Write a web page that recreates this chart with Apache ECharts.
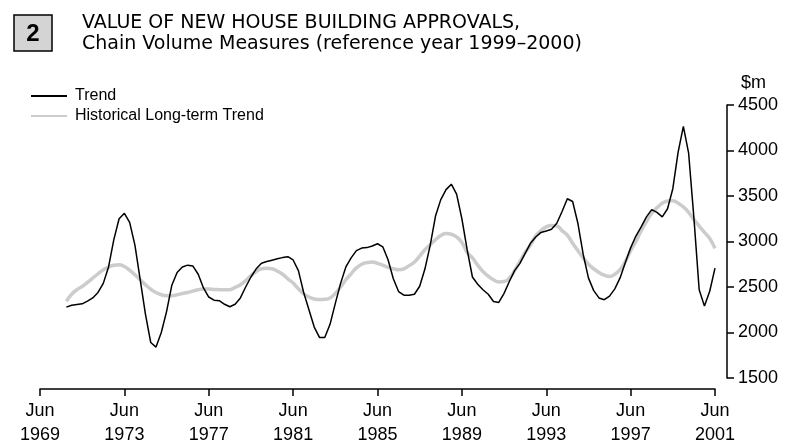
<!DOCTYPE html>
<html>
<head>
<meta charset="utf-8">
<script src="https://cdn.jsdelivr.net/npm/echarts@6/dist/echarts.min.js"></script>
<style>
  html, body { margin: 0; padding: 0; background: #fff; }
  #chart { width: 794px; height: 447px; }
</style>
</head>
<body>
<div id="chart"></div>
<script>
// quarters counted from Jun 1969 (0) ; first observation is Sep 1970
const firstQuarter = 5;
const tickYears = ['1969', '1973', '1977', '1981', '1985', '1989', '1993', '1997', '2001'];

// Trend, $m
const trendValues = [
  2279, 2300, 2308, 2315, 2345, 2380, 2440, 2540, 2720, 3020,
  3250, 3310, 3210, 2960, 2580, 2200, 1890, 1840, 2000, 2230,
  2520, 2660, 2720, 2740, 2730, 2640, 2490, 2390, 2355, 2350,
  2310, 2283, 2310, 2380, 2500, 2610, 2700, 2761, 2780, 2795,
  2810, 2823, 2833, 2797, 2680, 2440, 2250, 2060, 1946, 1946,
  2090, 2320, 2540, 2720, 2820, 2900, 2928, 2933, 2950, 2975,
  2942, 2800, 2590, 2450, 2410, 2410, 2420, 2508, 2700, 2960,
  3280, 3460, 3570, 3630, 3520, 3250, 2910, 2610, 2530, 2470,
  2420, 2340, 2330, 2430, 2560, 2680, 2760, 2870, 2980, 3050,
  3100, 3115, 3135, 3200, 3330, 3470, 3440, 3200, 2860, 2600,
  2460, 2380, 2360, 2400, 2480, 2600, 2770, 2930, 3060, 3160,
  3270, 3350, 3320, 3270, 3360, 3580, 3980, 4265, 3970, 3260,
  2470, 2290, 2453, 2707
];

// Historical long-term trend, $m
const longTermValues = [
  2344, 2420, 2470, 2505, 2550, 2598, 2645, 2688, 2720, 2740,
  2745, 2725, 2685, 2634, 2580, 2525, 2475, 2440, 2415, 2405,
  2405, 2415, 2428, 2440, 2455, 2470, 2478, 2478, 2473, 2471,
  2470, 2471, 2495, 2525, 2570, 2625, 2670, 2700, 2707, 2700,
  2675, 2640, 2590, 2543, 2480, 2425, 2390, 2368, 2362, 2365,
  2380, 2430, 2500, 2580, 2645, 2710, 2750, 2768, 2775, 2760,
  2740, 2715, 2700, 2690, 2700, 2735, 2775, 2840, 2910, 2965,
  3020, 3065, 3087, 3080, 3051, 2990, 2880, 2820, 2740, 2670,
  2620, 2580, 2555, 2560, 2598, 2680, 2780, 2880, 2960, 3060,
  3120, 3160, 3177, 3170, 3120, 3069, 2980, 2900, 2820, 2750,
  2700, 2660, 2630, 2616, 2640, 2690, 2780, 2900, 3000, 3120,
  3220, 3310, 3370, 3420, 3445, 3449, 3420, 3380, 3320, 3240,
  3170, 3100, 3033, 2924
];

const toPairs = arr => arr.map((v, i) => [firstQuarter + i, v]);

const chart = echarts.init(document.getElementById('chart'));
const sans = '"Liberation Sans", Arial, sans-serif';
const titleFont = '"DejaVu Sans", sans-serif';

const option = {
  animation: false,
  backgroundColor: '#fff',
  textStyle: { fontFamily: sans, color: '#000' },
  graphic: [
    {
      type: 'rect',
      shape: { x: 14, y: 15, width: 38, height: 36 },
      style: { fill: '#d4d4d4', stroke: '#000', lineWidth: 1.5 }
    },
    {
      type: 'text',
      x: 33, y: 34,
      style: { text: '2', fontSize: 24, fontWeight: 'bold', fontFamily: sans, fill: '#000', align: 'center', verticalAlign: 'middle' }
    },
    {
      type: 'text',
      x: 82, y: 23,
      style: { text: 'VALUE OF NEW HOUSE BUILDING APPROVALS,', fontSize: 19, fontFamily: titleFont, fill: '#000', verticalAlign: 'middle' }
    },
    {
      type: 'text',
      x: 82, y: 44,
      style: { text: 'Chain Volume Measures (reference year 1999–2000)', fontSize: 19, fontFamily: titleFont, fill: '#000', verticalAlign: 'middle' }
    }
  ],
  legend: {
    orient: 'vertical',
    left: 25,
    top: 83,
    itemWidth: 36,
    itemHeight: 10,
    itemGap: 4,
    itemStyle: { opacity: 0 },
    textStyle: { fontSize: 16, fontFamily: sans, color: '#000', padding: [0, 0, 0, 3] },
    data: ['Trend', 'Historical Long-term Trend']
  },
  grid: { left: 40, right: 79, top: 105, bottom: 66 },
  xAxis: {
    type: 'value',
    min: 0,
    max: 128,
    interval: 16,
    offset: 11,
    splitLine: { show: false },
    axisLine: { onZero: false, lineStyle: { color: '#000', width: 1.5 } },
    axisTick: { length: 7, lineStyle: { color: '#000', width: 1.5 } },
    axisLabel: {
      fontSize: 18,
      fontFamily: sans,
      color: '#000',
      lineHeight: 24,
      margin: 10,
      formatter: v => 'Jun\n' + tickYears[v / 16]
    }
  },
  yAxis: {
    type: 'value',
    position: 'right',
    min: 1500,
    max: 4500,
    interval: 500,
    offset: 12,
    name: '$m',
    nameLocation: 'end',
    nameGap: 13,
    nameTextStyle: { fontSize: 18, fontFamily: sans, color: '#000', align: 'left', padding: [0, 0, 0, 14] },
    splitLine: { show: false },
    axisLine: { show: true, onZero: false, lineStyle: { color: '#000', width: 1.5 } },
    axisTick: { show: true, length: 7, lineStyle: { color: '#000', width: 1.5 } },
    axisLabel: { fontSize: 18, fontFamily: sans, color: '#000', margin: 11, formatter: v => String(v) }
  },
  series: [
    {
      name: 'Trend',
      type: 'line',
      data: toPairs(trendValues),
      symbol: 'none',
      z: 3,
      lineStyle: { color: '#000', width: 1.5 },
      itemStyle: { color: '#000' }
    },
    {
      name: 'Historical Long-term Trend',
      type: 'line',
      data: toPairs(longTermValues),
      symbol: 'none',
      smooth: true,
      z: 2,
      lineStyle: { color: '#cccccc', width: 3.5 },
      itemStyle: { color: '#cccccc' }
    }
  ]
};

chart.setOption(option);
window.addEventListener('resize', () => chart.resize());
</script>
</body>
</html>
